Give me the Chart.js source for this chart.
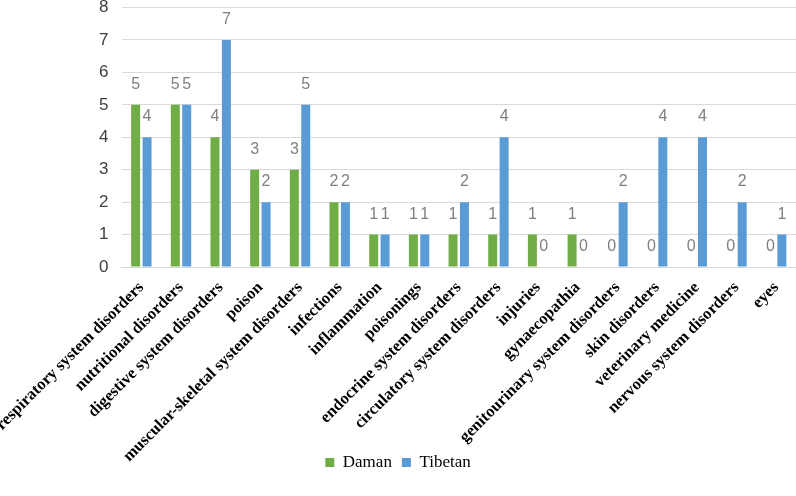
<!DOCTYPE html>
<html>
<head>
<meta charset="utf-8">
<script src="https://cdn.jsdelivr.net/npm/chart.js@4/dist/chart.umd.min.js"></script>
<style>
  html, body { margin: 0; padding: 0; background: #fff; }
  #wrap { width: 796px; height: 496px; }
</style>
</head>
<body>
<div id="wrap"><canvas id="chart" width="796" height="496"></canvas></div>
<script>
// categories and counts
const categories = [
    "respiratory system disorders", "nutritional disorders", "digestive system disorders",
    "poison", "muscular-skeletal system disorders", "infections", "inflammation",
    "poisonings", "endocrine system disorders", "circulatory system disorders",
    "injuries", "gynaecopathia", "genitourinary system disorders", "skin disorders",
    "veterinary medicine", "nervous system disorders", "eyes"
];
const damanValues = [5, 5, 4, 3, 3, 2, 1, 1, 1, 1, 1, 1, 0, 0, 0, 0, 0];
const tibetanValues = [4, 5, 7, 2, 5, 2, 1, 1, 2, 4, 0, 0, 2, 4, 4, 2, 1];
const yTicks = [0, 1, 2, 3, 4, 5, 6, 7, 8];

// value labels above each bar
const barLabels = {
    id: "barLabels",
    afterDatasetsDraw(chart) {
        const c = chart.ctx;
        c.save();
        c.font = "16px 'Liberation Sans', Arial, sans-serif";
        c.fillStyle = "#7f7f7f";
        c.textAlign = "center";
        c.textBaseline = "alphabetic";
        chart.data.datasets.forEach((ds, i) => {
            chart.getDatasetMeta(i).data.forEach((bar, j) => {
                c.fillText(String(ds.data[j]), bar.x, bar.y - 16);
            });
        });
        c.restore();
    }
};

new Chart(document.getElementById("chart").getContext("2d"), {
    type: "bar",
    data: {
        labels: categories,
        datasets: [
            { label: "Daman", data: damanValues, backgroundColor: "#70AD47" },
            { label: "Tibetan", data: tibetanValues, backgroundColor: "#5B9BD5" }
        ]
    },
    options: {
        responsive: false,
        animation: false,
        categoryPercentage: 0.575,
        barPercentage: 0.79,
        layout: { padding: { top: 7.5, right: 0, bottom: 15, left: 0 } },
        plugins: {
            tooltip: { enabled: false },
            legend: {
                position: "bottom",
                labels: {
                    boxWidth: 9,
                    boxHeight: 9,
                    padding: 10,
                    color: "#000",
                    font: { family: "'Liberation Serif', 'Times New Roman', serif", size: 17 }
                }
            }
        },
        scales: {
            x: {
                grid: { display: false, drawTicks: false },
                border: { color: "#D9D9D9" },
                afterFit(scale) {
                    scale.height = 177;
                    scale.paddingLeft = 0;
                    scale.paddingRight = 0;
                    // long rotated labels run past the axis box, don't clip them
                    scale._computeLabelArea = () => undefined;
                },
                ticks: {
                    minRotation: 45,
                    maxRotation: 45,
                    autoSkip: false,
                    padding: 11,
                    color: "#000",
                    font: { family: "'Liberation Serif', 'Times New Roman', serif", size: 16.5, weight: "bold" }
                }
            },
            y: {
                min: 0,
                max: 8,
                afterFit(scale) {
                    scale.width = 121.5;
                    scale.paddingTop = 0;
                    scale.paddingBottom = 0;
                },
                afterBuildTicks(scale) { scale.ticks = yTicks.map(v => ({ value: v })); },
                grid: { color: "#D9D9D9", drawTicks: false },
                border: { display: false },
                ticks: {
                    padding: 13,
                    color: "#404040",
                    font: { family: "'Liberation Sans', Arial, sans-serif", size: 17 }
                }
            }
        }
    },
    plugins: [barLabels]
});
</script>
</body>
</html>
